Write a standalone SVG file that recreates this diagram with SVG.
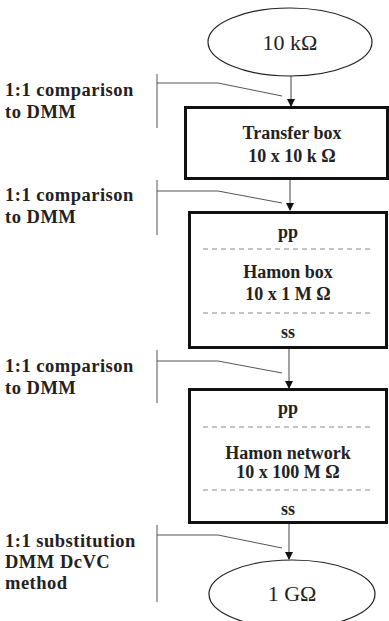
<svg xmlns="http://www.w3.org/2000/svg" width="389" height="621" viewBox="0 0 389 621">
<defs>
<marker id="ah" markerWidth="8" markerHeight="8" refX="7" refY="4" orient="auto" markerUnits="userSpaceOnUse">
<path d="M0,0 L8,4 L0,8 Z" fill="#111"/>
</marker>
<style>
text{font-family:'Liberation Serif','Times New Roman',Times,serif}
.lbl{font-weight:bold;font-size:18.5px;fill:#222;letter-spacing:0.5px}
.bt{font-weight:bold;font-size:18px;fill:#222;text-anchor:middle}
.et{font-size:22px;fill:#222;text-anchor:middle}
.box{fill:#fff;stroke:#111;stroke-width:3}
.ell{fill:#fff;stroke:#222;stroke-width:1.2}
.dash{stroke:#888;stroke-width:1;stroke-dasharray:5,4}
.arr{stroke:#444;stroke-width:1;fill:none;marker-end:url(#ah)}
.br{stroke:#555;stroke-width:1;fill:none}
</style>
</defs>
<rect width="389" height="621" fill="#fff"/>
<g id="connectors">
<line class="arr" x1="291" y1="76" x2="291" y2="106"/>
<line class="arr" x1="290" y1="179" x2="290" y2="210"/>
<line class="arr" x1="289" y1="348" x2="289" y2="388"/>
<line class="arr" x1="289" y1="523" x2="289" y2="559"/>
</g>
<g id="label1">
<path class="br" d="M157,74 V128 M157,83 H218 L282,96"/>
<text class="lbl" x="5" y="96">1:1 comparison</text>
<text class="lbl" x="5" y="118">to DMM</text>
</g>
<g id="label2">
<path class="br" d="M157,180 V235 M157,191 H218 L282,203"/>
<text class="lbl" x="5" y="201">1:1 comparison</text>
<text class="lbl" x="5" y="223">to DMM</text>
</g>
<g id="label3">
<path class="br" d="M157,350 V403 M157,361 H218 L282,373"/>
<text class="lbl" x="5" y="372">1:1 comparison</text>
<text class="lbl" x="5" y="394">to DMM</text>
</g>
<g id="label4">
<path class="br" d="M157,525 V602 M157,535 H218 L282,548"/>
<text class="lbl" x="5" y="547">1:1 substitution</text>
<text class="lbl" x="5" y="568">DMM DcVC</text>
<text class="lbl" x="5" y="589">method</text>
</g>
<g id="n10k">
<ellipse class="ell" cx="290" cy="42" rx="82" ry="34"/>
<text class="et" x="290" y="50">10 kΩ</text>
</g>
<g id="transfer">
<rect class="box" x="185.5" y="107.5" width="202" height="71"/>
<text class="bt" x="292" y="139">Transfer box</text>
<text class="bt" x="292" y="162">10 x 10 k Ω</text>
</g>
<g id="hamonbox">
<rect class="box" x="189.5" y="212.5" width="197" height="135"/>
<text class="bt" x="288" y="238">pp</text>
<line class="dash" x1="203" y1="249" x2="373" y2="249"/>
<text class="bt" x="288" y="278">Hamon box</text>
<text class="bt" x="288" y="300">10 x 1 M Ω</text>
<line class="dash" x1="203" y1="313" x2="373" y2="313"/>
<text class="bt" x="288" y="338">ss</text>
</g>
<g id="hamonnet">
<rect class="box" x="189.5" y="389.5" width="197" height="133"/>
<text class="bt" x="288" y="414">pp</text>
<line class="dash" x1="203" y1="427" x2="373" y2="427"/>
<text class="bt" x="288" y="459">Hamon network</text>
<text class="bt" x="288" y="478">10 x 100 M Ω</text>
<line class="dash" x1="203" y1="490" x2="373" y2="490"/>
<text class="bt" x="288" y="515">ss</text>
</g>
<g id="n1g">
<ellipse class="ell" cx="292" cy="594" rx="83" ry="34"/>
<text class="et" x="292" y="601">1 GΩ</text>
</g>
</svg>
